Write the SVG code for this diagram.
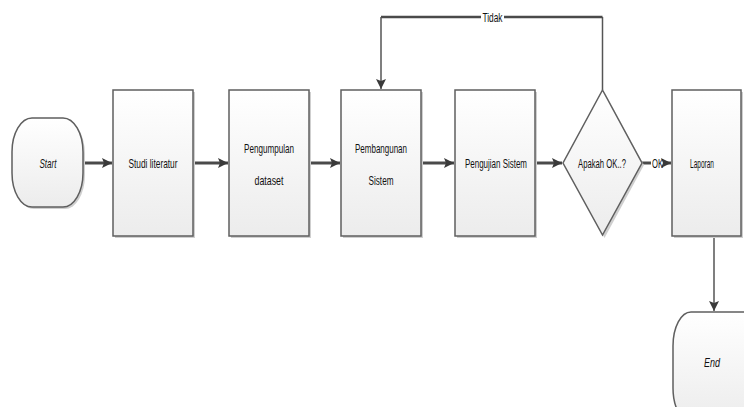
<svg xmlns="http://www.w3.org/2000/svg" width="744" height="407" viewBox="0 0 744 407">
<style>
.shape{fill:url(#g);stroke:#5f5f5f;stroke-width:1.5}
.shadow{fill:#cfcfcf;stroke:none}
.t{font-family:"Liberation Sans Narrow","Liberation Sans",Arial,sans-serif;font-size:13px;fill:#111;text-anchor:middle;dominant-baseline:central}
.it{font-style:italic}
.c{fill:none;stroke:#4a4a4a;stroke-width:3}
.cthin{fill:none;stroke:#555;stroke-width:1.5}
</style>
<defs>
<linearGradient id="g" x1="0" y1="0" x2="0" y2="1">
<stop offset="0" stop-color="#ffffff"/>
<stop offset="1" stop-color="#ececec"/>
</linearGradient>
<marker id="a" viewBox="0 0 10 10" refX="10" refY="5" markerWidth="10" markerHeight="12" markerUnits="userSpaceOnUse" orient="auto">
<path d="M0,0 L10,5 L0,10 L2,5 Z" fill="#3a3a3a"/>
</marker>
</defs>
<g id="connectors">
<line class="c" x1="83" y1="163" x2="112" y2="163" marker-end="url(#a)"/>
<line class="c" x1="193" y1="163" x2="228" y2="163" marker-end="url(#a)"/>
<line class="c" x1="309" y1="163" x2="340" y2="163" marker-end="url(#a)"/>
<line class="c" x1="421" y1="163" x2="454" y2="163" marker-end="url(#a)"/>
<line class="c" x1="535" y1="163" x2="562" y2="163" marker-end="url(#a)"/>
<line class="c" x1="642" y1="163" x2="651" y2="163"/>
<line class="c" x1="664" y1="163" x2="671" y2="163" marker-end="url(#a)"/>
<polyline class="cthin" points="602.5,90 602.5,17"/>
<line class="c" x1="504" y1="17" x2="602.5" y2="17" style="stroke-width:2.5"/>
<line class="c" x1="481" y1="17" x2="381" y2="17" style="stroke-width:2.5"/>
<polyline class="cthin" points="381,17 381,89" marker-end="url(#a)"/>
<line class="cthin" x1="714" y1="236" x2="714" y2="311" marker-end="url(#a)"/>
<text class="t" x="492.5" y="17" textLength="20" lengthAdjust="spacingAndGlyphs">Tidak</text>
<text class="t" x="657.5" y="163" textLength="11" lengthAdjust="spacingAndGlyphs">OK</text>
</g>
<g id="start">
<rect class="shadow" x="14" y="120" width="71" height="89" rx="20" ry="34"/>
<rect class="shape" x="12" y="118" width="71" height="89" rx="20" ry="34"/>
<text class="t it" x="48" y="163" textLength="17" lengthAdjust="spacingAndGlyphs">Start</text>
</g>
<g id="studi">
<rect class="shadow" x="115" y="92" width="80" height="146"/>
<rect class="shape" x="113" y="90" width="80" height="146"/>
<text class="t" x="153" y="163" textLength="49" lengthAdjust="spacingAndGlyphs">Studi literatur</text>
</g>
<g id="pengumpulan">
<rect class="shadow" x="231" y="92" width="80" height="146"/>
<rect class="shape" x="229" y="90" width="80" height="146"/>
<text class="t" x="269" y="148" textLength="50" lengthAdjust="spacingAndGlyphs">Pengumpulan</text>
<text class="t" x="269" y="180" textLength="29" lengthAdjust="spacingAndGlyphs">dataset</text>
</g>
<g id="pembangunan">
<rect class="shadow" x="343" y="92" width="80" height="146"/>
<rect class="shape" x="341" y="90" width="80" height="146"/>
<text class="t" x="381" y="148" textLength="52" lengthAdjust="spacingAndGlyphs">Pembangunan</text>
<text class="t" x="381" y="180" textLength="25" lengthAdjust="spacingAndGlyphs">Sistem</text>
</g>
<g id="pengujian">
<rect class="shadow" x="457" y="92" width="80" height="146"/>
<rect class="shape" x="455" y="90" width="80" height="146"/>
<text class="t" x="496" y="163" textLength="62" lengthAdjust="spacingAndGlyphs">Pengujian Sistem</text>
</g>
<g id="decision">
<polygon class="shadow" points="604.5,92 644,165 604.5,238 565,165"/>
<polygon class="shape" points="602.5,90 642,163 602.5,235 563,163"/>
<text class="t" x="602" y="163" textLength="48" lengthAdjust="spacingAndGlyphs">Apakah OK..?</text>
</g>
<g id="laporan">
<rect class="shadow" x="674" y="92" width="69" height="146"/>
<rect class="shape" x="672" y="90" width="69" height="146"/>
<text class="t" x="702" y="163" textLength="24" lengthAdjust="spacingAndGlyphs">Laporan</text>
</g>
<g id="end">
<rect class="shape" x="673" y="312" width="90" height="110" rx="18" ry="34"/>
<text class="t it" x="712" y="362" textLength="16" lengthAdjust="spacingAndGlyphs">End</text>
</g>
</svg>
